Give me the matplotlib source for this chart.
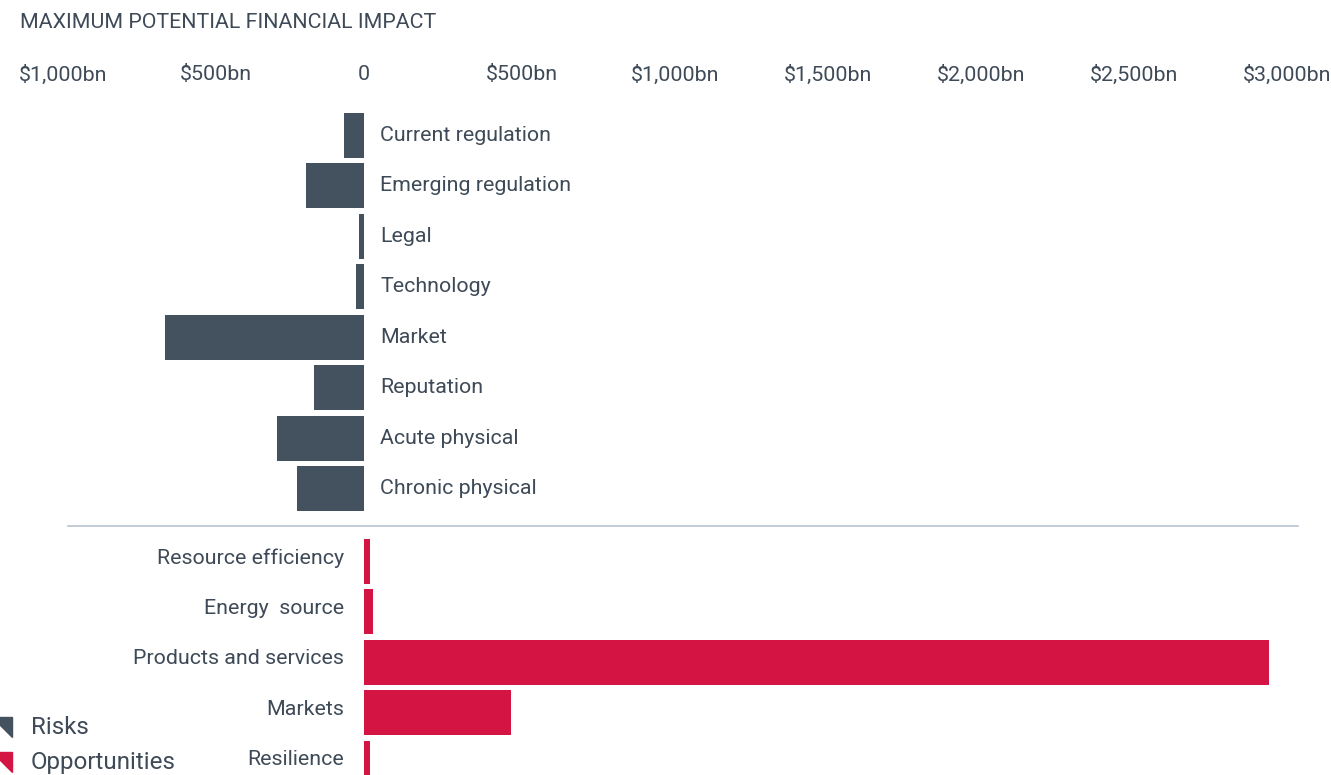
import matplotlib.pyplot as plt
from matplotlib.patches import Polygon

plt.rcParams['font.family'] = ['Roboto', 'DejaVu Sans']

# data ($bn)
risk_labels = ['Current regulation', 'Emerging regulation', 'Legal', 'Technology',
               'Market', 'Reputation', 'Acute physical', 'Chronic physical']
risk_values = [-65, -189, -16, -26, -651, -163, -283, -218]

opp_labels = ['Resource efficiency', 'Energy  source', 'Products and services',
              'Markets', 'Resilience']
opp_values = [20, 30, 2958, 481, 20]

tick_values = [-1000, -500, 0, 500, 1000, 1500, 2000, 2500, 3000]
tick_labels = ['$1,000bn', '$500bn', '0', '$500bn', '$1,000bn', '$1,500bn',
               '$2,000bn', '$2,500bn', '$3,000bn']

risk_color = '#44525f'
opp_color = '#d41443'
text_color = '#3e4a57'

W, H = 1331, 775
fig = plt.figure(figsize=(W / 100, H / 100), dpi=100)
ax = fig.add_axes([0, 0, 1, 1])
ax.axis('off')

# pixel layout: zero at x=364, 0.306 px per $bn
scale = 0.306
x0 = 364
ax.set_xlim(-x0 / scale, (W - x0) / scale)
ax.set_ylim(H, 0)

row = 50.45
bar_h = 45
risk_y = [135.3 + row * i for i in range(len(risk_labels))]
opp_y = [561.5 + row * i for i in range(len(opp_labels))]

ax.barh(risk_y, risk_values, height=bar_h, color=risk_color)
ax.barh(opp_y, opp_values, height=bar_h, color=opp_color)

fs = 15.4
lab_off = 16 / scale
for y, lab in zip(risk_y, risk_labels):
    ax.text(lab_off, y, lab, ha='left', va='center', fontsize=fs, color=text_color)
for y, lab in zip(opp_y, opp_labels):
    ax.text(-lab_off - 4 / scale, y - 3.5, lab, ha='right', va='center', fontsize=fs, color=text_color)

# top scale labels (the $ labels sit a few px right of their tick)
for v, lab in zip(tick_values, tick_labels):
    shift = 0 if v == 0 else 5 / scale
    ax.text(v + shift, 75, lab, ha='center', va='center', fontsize=fs, color=text_color)

# separator line
ax.plot([(68 - x0) / scale, (1298 - x0) / scale], [526, 526], color='#b7c3cf', lw=1.2)

fig.text(20 / W, 1 - 23 / H, 'MAXIMUM POTENTIAL FINANCIAL IMPACT', ha='left', va='center',
         fontsize=fs, color=text_color)

# legend
for yc, col, lab in [(727, risk_color, 'Risks'), (762, opp_color, 'Opportunities')]:
    tri = Polygon([(-8 / W, 1 - (yc - 10) / H), (12 / W, 1 - (yc - 10) / H), (12 / W, 1 - (yc + 10) / H)],
                  closed=True, color=col, transform=fig.transFigure)
    fig.patches.append(tri)
    fig.text(31 / W, 1 - (yc + 1) / H, lab, ha='left', va='center', fontsize=17.4, color=text_color)

fig.savefig('out.png', dpi=100)
